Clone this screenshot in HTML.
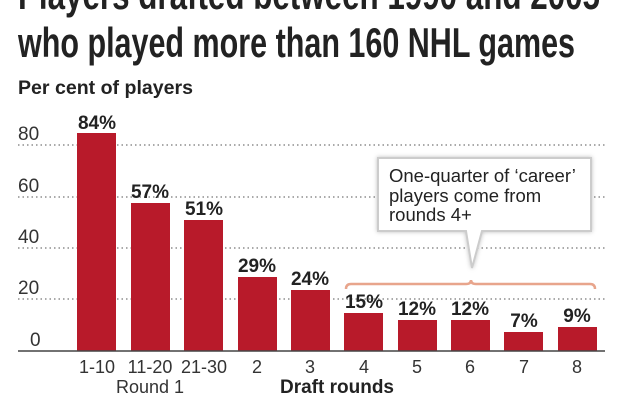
<!DOCTYPE html>
<html><head><meta charset="utf-8"><style>
body{margin:0;background:#fff;}
svg{display:block;font-family:"Liberation Sans",sans-serif;}
</style></head><body>
<svg width="620" height="400" viewBox="0 0 620 400">
<g font-weight="bold" fill="#222" font-size="42">
<text x="18" y="9" textLength="582" lengthAdjust="spacingAndGlyphs">Players drafted between 1990 and 2005</text>
<text x="18" y="57" textLength="557" lengthAdjust="spacingAndGlyphs">who played more than 160 NHL games</text>
</g>
<text x="18" y="94" font-size="19" font-weight="bold" fill="#222" textLength="175" lengthAdjust="spacingAndGlyphs">Per cent of players</text>
<g stroke="#777" stroke-width="1.3" stroke-dasharray="1.5 3">
<line x1="18" y1="145" x2="605" y2="145"/>
<line x1="18" y1="197" x2="605" y2="197"/>
<line x1="18" y1="248" x2="605" y2="248"/>
<line x1="18" y1="299" x2="605" y2="299"/>
</g>
<g font-size="19" fill="#333">
<text x="18" y="140">80</text><text x="18" y="192">60</text><text x="18" y="243">40</text><text x="18" y="294">20</text><text x="30" y="346">0</text>
</g>
<g fill="#b81a2a">
<rect x="77" y="133" width="39" height="218"/>
<rect x="131" y="203" width="39" height="148"/>
<rect x="184" y="220" width="39" height="131"/>
<rect x="238" y="277" width="39" height="74"/>
<rect x="291" y="290" width="39" height="61"/>
<rect x="344" y="313" width="39" height="38"/>
<rect x="398" y="320" width="39" height="31"/>
<rect x="451" y="320" width="39" height="31"/>
<rect x="504" y="332" width="39" height="19"/>
<rect x="558" y="327" width="39" height="24"/>
</g>
<line x1="18" y1="351" x2="605" y2="351" stroke="#444" stroke-width="1.5"/>
<g font-size="19" font-weight="bold" fill="#222" text-anchor="middle">
<text x="97" y="129">84%</text><text x="150" y="198">57%</text><text x="204" y="215">51%</text>
<text x="257" y="272">29%</text><text x="310" y="285">24%</text><text x="364" y="308">15%</text>
<text x="417" y="315">12%</text><text x="470" y="315">12%</text><text x="524" y="327">7%</text><text x="577" y="322">9%</text>
</g>
<g font-size="18" fill="#333" text-anchor="middle">
<text x="97" y="373">1-10</text><text x="150" y="373">11-20</text><text x="204" y="373">21-30</text>
<text x="257" y="373">2</text><text x="310" y="373">3</text><text x="364" y="373">4</text>
<text x="417" y="373">5</text><text x="470" y="373">6</text><text x="524" y="373">7</text><text x="577" y="373">8</text>
<text x="150" y="393">Round 1</text>
</g>
<text x="337" y="393" font-size="19" font-weight="bold" fill="#222" text-anchor="middle">Draft rounds</text>
<path d="M346 289 Q346 284 351 284 L466 284 Q471 284 471 280 Q471 284 476 284 L590 284 Q595 284 595 289" fill="none" stroke="#e8a58c" stroke-width="2.5"/>
<path d="M378 158 L591 158 L591 231 L482 231 L472 268 L466 231 L378 231 Z" fill="#fff" stroke="#ccc" stroke-width="2" style="filter:drop-shadow(0 0 2px rgba(0,0,0,0.25))"/>
<g font-size="18.5" fill="#222">
<text x="389" y="182">One-quarter of ‘career’</text>
<text x="389" y="202">players come from</text>
<text x="389" y="221">rounds 4+</text>
</g>
</svg>
</body></html>
